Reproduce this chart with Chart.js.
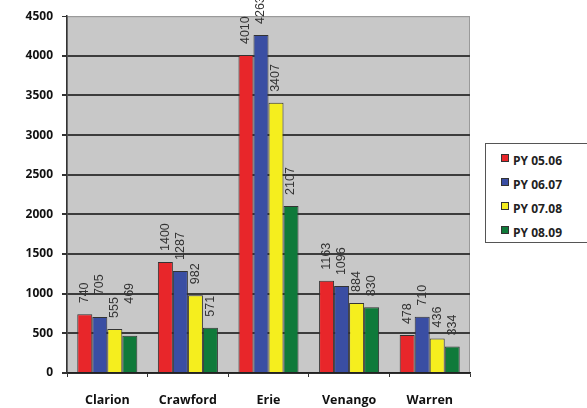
<!DOCTYPE html>
<html>
<head>
<meta charset="utf-8">
<script src="https://cdn.jsdelivr.net/npm/chart.js@4"></script>
<style>
  html, body { margin: 0; padding: 0; background: #fff; overflow: hidden; }
  #wrap { position: relative; width: 587px; height: 408px; }
  #legend {
    position: absolute; left: 485px; top: 143px; width: 120px; height: 100px;
    border: 1px solid #555; box-sizing: border-box; background: #fff;
    font: bold 12px "Open Sans", "Liberation Sans", sans-serif; color: #222;
  }
  #legend .item { position: absolute; left: 15px; height: 16px; line-height: 16px; white-space: nowrap; }
  #legend .sw {
    display: inline-block; width: 6px; height: 6px; border: 1px solid #333;
    margin-right: 4px; vertical-align: 3px;
  }
</style>
</head>
<body>
<div id="wrap">
  <canvas id="chart" width="587" height="408"></canvas>
  <div id="legend"></div>
</div>
<script>
const categories = ["Clarion", "Crawford", "Erie", "Venango", "Warren"];
const seriesNames = ["PY 05.06", "PY 06.07", "PY 07.08", "PY 08.09"];
const py0506 = [740, 1400, 4010, 1163, 478];
const py0607 = [705, 1287, 4263, 1096, 710];
const py0708 = [555, 982, 3407, 884, 436];
const py0809 = [469, 571, 2107, 830, 334];
const yTicks = [0, 500, 1000, 1500, 2000, 2500, 3000, 3500, 4000, 4500];

const COLORS = ["#e8262a", "#3a4ea3", "#f5ee1e", "#0f7a3a"];
// extra lift (px) for the value labels over the Clarion bars, which sit higher in the original
const CLARION_LIFT = [11, 22, 11, 32];

const bgPlugin = {
  id: "plotBg",
  beforeDraw(chart) {
    const { ctx, chartArea: a } = chart;
    ctx.save();
    ctx.fillStyle = "#c8c8c8";
    ctx.fillRect(a.left, a.top, a.right - a.left, a.bottom - a.top);
    ctx.strokeStyle = "#9a9a9a";
    ctx.lineWidth = 1;
    ctx.strokeRect(a.left + 0.5, a.top + 0.5, a.right - a.left - 1, a.bottom - a.top);
    ctx.restore();
  },
};

const valueLabels = {
  id: "valueLabels",
  afterDatasetsDraw(chart) {
    const { ctx } = chart;
    ctx.save();
    ctx.font = "12.5px 'Liberation Sans', Arial, sans-serif";
    ctx.fillStyle = "#333";
    ctx.textAlign = "left";
    ctx.textBaseline = "middle";
    chart.data.datasets.forEach((ds, di) => {
      chart.getDatasetMeta(di).data.forEach((bar, i) => {
        const lift = i === 0 ? CLARION_LIFT[di] : 11;
        ctx.save();
        ctx.translate(bar.x, bar.y - lift);
        ctx.rotate(-Math.PI / 2);
        ctx.fillText(String(ds.data[i]), 0, 0);
        ctx.restore();
      });
    });
    ctx.restore();
  },
};

const series = [py0506, py0607, py0708, py0809];

new Chart(document.getElementById("chart"), {
  type: "bar",
  data: {
    labels: categories,
    datasets: series.map((vals, i) => ({
      label: seriesNames[i],
      data: vals,
      backgroundColor: COLORS[i],
      borderColor: "#333",
      borderWidth: 1,
      categoryPercentage: 0.745,
      barPercentage: 1,
    })),
  },
  options: {
    responsive: false,
    animation: false,
    layout: { padding: { left: 0, right: 117, top: 13, bottom: 0 } },
    plugins: { legend: { display: false }, tooltip: { enabled: false } },
    scales: {
      x: {
        afterFit(s) { s.height = 35; },
        grid: { display: true, drawOnChartArea: false, drawTicks: true, tickLength: 4, color: "#333", lineWidth: 1 },
        border: { color: "#222", width: 1.5 },
        ticks: {
          color: "#111",
          padding: 16,
          font: { family: "'Open Sans', 'Liberation Sans', sans-serif", size: 12.5, weight: "bold" },
        },
      },
      y: {
        min: 0,
        max: 4500,
        afterFit(s) { s.width = 67; },
        afterBuildTicks(s) { s.ticks = yTicks.map((v) => ({ value: v })); },
        grid: {
          color: (c) => (c.tick && c.tick.value === 4500 ? "#9a9a9a" : "#3c3c3c"),
          lineWidth: (c) => (c.tick && c.tick.value === 4500 ? 1 : 2),
          tickLength: 5,
          tickColor: "#333",
        },
        border: { color: "#333", width: 1.5 },
        ticks: {
          color: "#111",
          padding: 9,
          callback: (v) => String(v),
          font: { family: "'Open Sans', 'Liberation Sans', sans-serif", size: 12, weight: "bold" },
        },
      },
    },
  },
  plugins: [bgPlugin, valueLabels],
});

const legend = document.getElementById("legend");
seriesNames.forEach((name, i) => {
  const item = document.createElement("div");
  item.className = "item";
  item.style.top = 9 + i * 24 + "px";
  item.innerHTML = '<span class="sw" style="background:' + COLORS[i] + '"></span>' + name;
  legend.appendChild(item);
});
</script>
</body>
</html>
